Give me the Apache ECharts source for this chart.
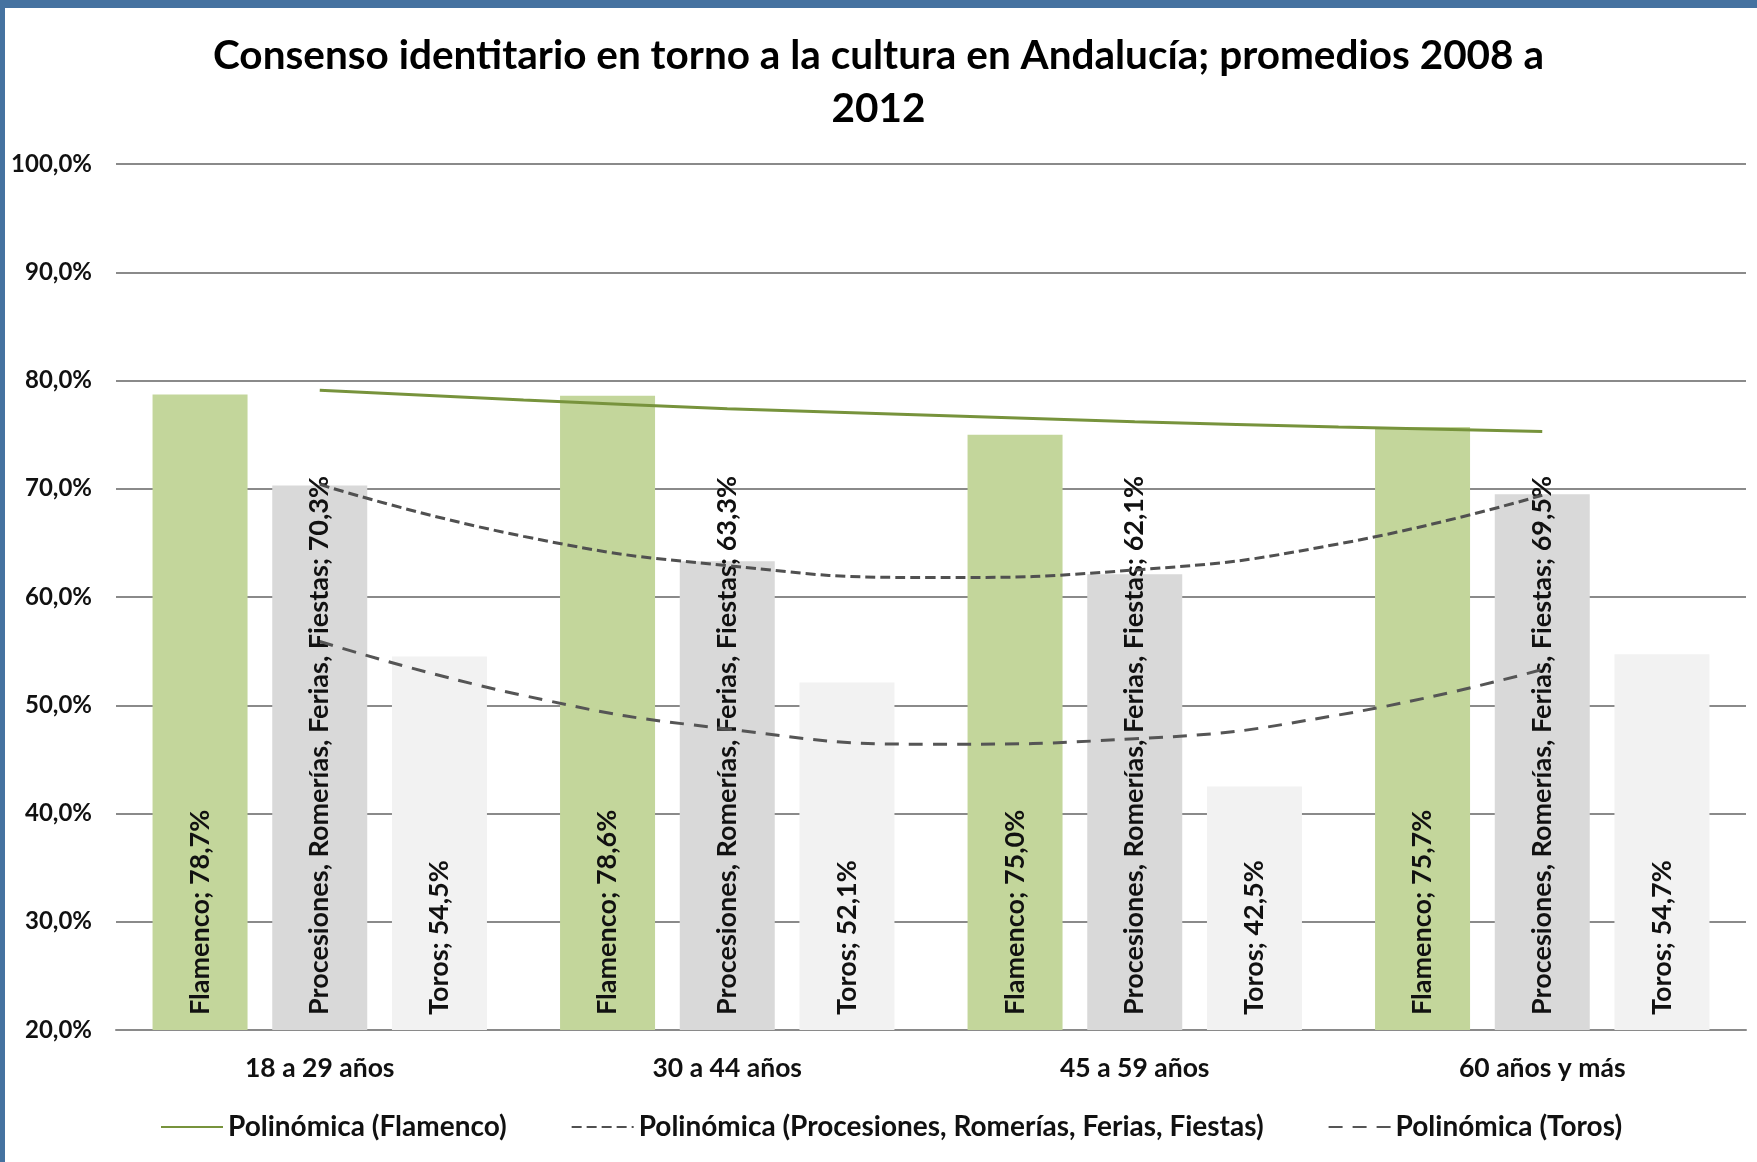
<!DOCTYPE html>
<html>
<head>
<meta charset="utf-8">
<title>Consenso identitario</title>
<script src="https://cdn.jsdelivr.net/npm/echarts@6/dist/echarts.min.js"></script>
<style>
  html, body { margin: 0; padding: 0; background: #fff; }
  #chart { width: 1757px; height: 1162px; }
</style>
</head>
<body>
<div id="chart"></div>
<script>
// grupos de edad
const ageGroups = ['18 a 29 años', '30 a 44 años', '45 a 59 años', '60 años y más']

// valores de las barras (%)
const flamenco = [78.7, 78.6, 75.0, 75.7]
const procesiones = [70.3, 63.3, 62.1, 69.5]
const toros = [54.5, 52.1, 42.5, 54.7]

// líneas de tendencia polinómica
const trendX = [1, 1.5, 2, 2.5, 3, 3.5, 4]
const trendFlamenco = [79.1, 78.2, 77.4, 76.8, 76.2, 75.7, 75.3]
const trendProcesiones = [70.4, 65.6, 62.9, 61.8, 62.5, 64.9, 69.4]
const trendToros = [55.9, 50.9, 47.8, 46.4, 46.9, 49.1, 53.3]

const FONT = 'Lato, "Open Sans", sans-serif'
const pct = v => v.toFixed(1).replace('.', ',') + '%'
const pairs = ys => trendX.map((x, i) => [x, ys[i]])

const chart = echarts.init(document.getElementById('chart'))

function barLabel(name) {
  return {
    show: true,
    position: 'insideBottom',
    rotate: 90,
    align: 'left',
    verticalAlign: 'middle',
    distance: 15,
    color: '#111',
    fontFamily: FONT,
    fontWeight: 'bold',
    fontSize: 27,
    formatter: p => name + '; ' + pct(p.value)
  }
}

const option = {
  backgroundColor: '#fff',
  animation: false,
  title: {
    text: 'Consenso identitario en torno a la cultura en Andalucía; promedios 2008 a\n2012',
    left: 'center',
    top: 24,
    textStyle: {
      fontFamily: FONT,
      fontWeight: 'bold',
      fontSize: 40.5,
      lineHeight: 53,
      color: '#000'
    }
  },
  graphic: [
    { type: 'rect', shape: { x: 0, y: 0, width: 1757, height: 8 }, style: { fill: '#4572a0' }, z: 100 },
    { type: 'rect', shape: { x: 0, y: 0, width: 5, height: 1162 }, style: { fill: '#4572a0' }, z: 100 }
  ],
  legend: {
    data: ['Polinómica (Flamenco)', 'Polinómica (Procesiones, Romerías, Ferias, Fiestas)', 'Polinómica (Toros)'],
    left: 155,
    top: 1108,
    itemWidth: 62,
    itemHeight: 14,
    itemGap: 64,
    itemStyle: { opacity: 0 },
    textStyle: {
      fontFamily: FONT,
      fontWeight: 'bold',
      fontSize: 28,
      color: '#111'
    }
  },
  grid: {
    left: 116,
    right: 11,
    top: 164,
    bottom: 132
  },
  xAxis: [
    {
      type: 'category',
      data: ageGroups,
      axisLine: { lineStyle: { color: '#8a8a8a', width: 2 } },
      axisTick: { show: false },
      axisLabel: {
        margin: 25,
        color: '#111',
        fontFamily: FONT,
        fontWeight: 'bold',
        fontSize: 26.5
      }
    },
    {
      type: 'value',
      min: 0.5,
      max: 4.5,
      show: false
    }
  ],
  yAxis: {
    type: 'value',
    min: 20,
    max: 100,
    interval: 10,
    axisLine: { show: false },
    axisTick: { show: false },
    splitLine: { lineStyle: { color: '#8a8a8a', width: 2 } },
    axisLabel: {
      margin: 24,
      color: '#111',
      fontFamily: FONT,
      fontWeight: 'bold',
      fontSize: 24,
      formatter: pct
    }
  },
  series: [
    {
      name: 'Flamenco',
      type: 'bar',
      barWidth: 95,
      barGap: '26%',
      data: flamenco,
      itemStyle: { color: '#c3d69b' },
      label: barLabel('Flamenco')
    },
    {
      name: 'Procesiones, Romerías, Ferias, Fiestas',
      type: 'bar',
      barWidth: 95,
      barGap: '26%',
      data: procesiones,
      itemStyle: { color: '#d9d9d9' },
      label: barLabel('Procesiones, Romerías, Ferias, Fiestas')
    },
    {
      name: 'Toros',
      type: 'bar',
      barWidth: 95,
      barGap: '26%',
      data: toros,
      itemStyle: { color: '#f2f2f2' },
      label: barLabel('Toros')
    },
    {
      name: 'Polinómica (Flamenco)',
      type: 'line',
      xAxisIndex: 1,
      smooth: true,
      symbol: 'none',
      data: pairs(trendFlamenco),
      lineStyle: { color: '#77933c', width: 3 },
      itemStyle: { color: '#77933c' },
      z: 5
    },
    {
      name: 'Polinómica (Procesiones, Romerías, Ferias, Fiestas)',
      type: 'line',
      xAxisIndex: 1,
      smooth: true,
      symbol: 'none',
      data: pairs(trendProcesiones),
      lineStyle: { color: '#505050', width: 3, type: [10, 5] },
      itemStyle: { color: '#505050' },
      z: 5
    },
    {
      name: 'Polinómica (Toros)',
      type: 'line',
      xAxisIndex: 1,
      smooth: true,
      symbol: 'none',
      data: pairs(trendToros),
      lineStyle: { color: '#555555', width: 3, type: [14, 10] },
      itemStyle: { color: '#555555' },
      z: 5
    }
  ]
}

chart.setOption(option)
</script>
</body>
</html>
